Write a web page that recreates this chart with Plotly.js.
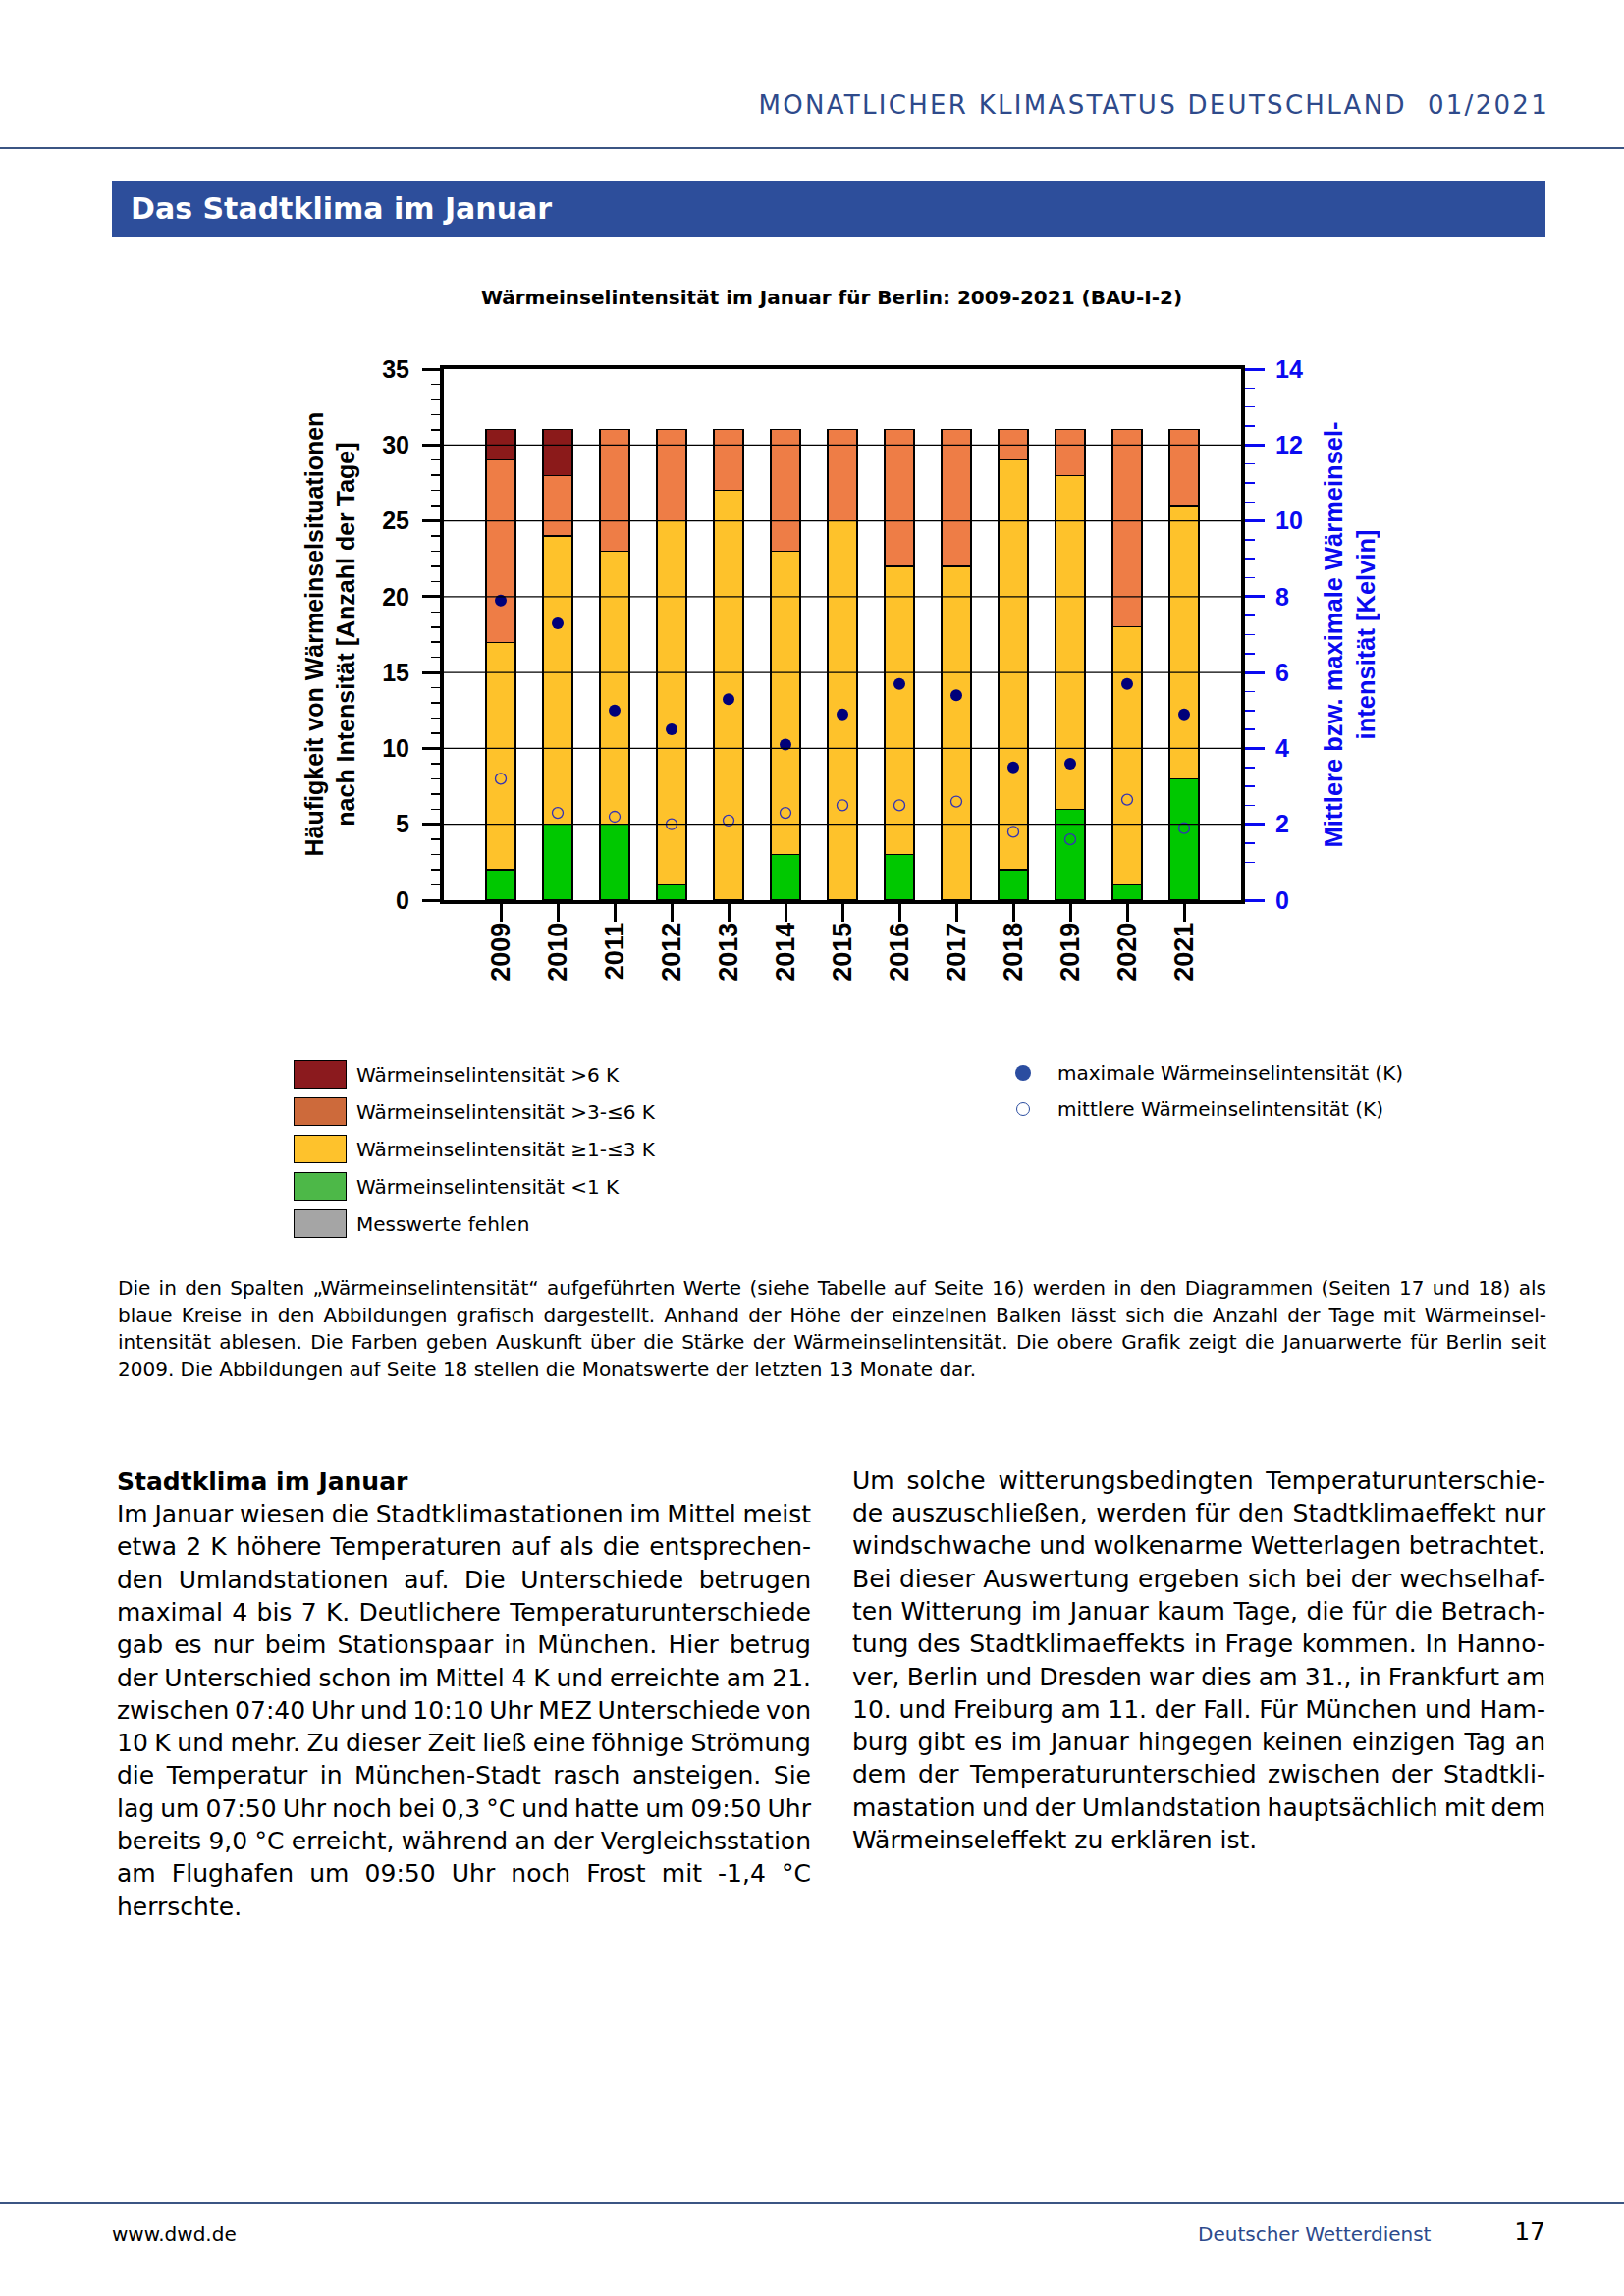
<!DOCTYPE html>
<html lang="de">
<head>
<meta charset="utf-8">
<title>Das Stadtklima im Januar</title>
<script src="https://cdn.plot.ly/plotly-3.0.1.min.js"></script>
<style>
html,body{margin:0;padding:0;background:#fff;}
#page{position:relative;width:1654px;height:2339px;overflow:hidden;font-family:"DejaVu Sans",sans-serif;color:#000;background:#fff;}
.rule{position:absolute;left:0;width:1654px;height:2px;background:#3b5583;}
#band{position:absolute;left:114px;top:184px;width:1460px;height:57px;background:#2d4e9b;}
#bandtext{position:absolute;left:19px;top:0;line-height:57px;font-weight:bold;font-size:30px;color:#fff;white-space:nowrap;}
.line{position:absolute;white-space:nowrap;}
#chart{position:absolute;left:0;top:260px;width:1654px;height:1020px;}
.lgbox{position:absolute;width:52px;height:27px;border:1.5px solid #000;}
.lgtext{position:absolute;white-space:nowrap;font-size:20px;line-height:30px;}
</style>
</head>
<body>
<div id="page">
  <div class="line" id="header" style="right:76px;top:90px;font-size:26px;line-height:34px;letter-spacing:2.3px;color:#2e4a8b;font-weight:normal;">MONATLICHER KLIMASTATUS DEUTSCHLAND&nbsp;&nbsp;01/2021</div>
  <div class="rule" style="top:150px;"></div>
  <div id="band"><div id="bandtext">Das Stadtklima im Januar</div></div>
  <div id="chart"></div>
  <div class="rule" style="top:2243px;"></div>
  <div class="line" style="left:114px;top:2260px;font-size:20px;line-height:32px;">www.dwd.de</div>
  <div class="line" style="left:1220px;top:2260px;font-size:20px;line-height:32px;color:#2c4a8c;">Deutscher Wetterdienst</div>
  <div class="line" style="right:80px;top:2256px;font-size:25px;line-height:36px;">17</div>
</div>
<script>
// ---------------- data ----------------
const years = ['2009','2010','2011','2012','2013','2014','2015','2016','2017','2018','2019','2020','2021'];
// days per intensity class (stacked, January = 31 days)
const daysBelow1K   = [2, 5, 5, 1, 0, 3, 0, 3, 0, 2, 6, 1, 8];
const days1to3K     = [15,19,18,24,27,20,25,19,22,27,22,17,18];
const days3to6K     = [12, 4, 8, 6, 4, 8, 6, 9, 9, 2, 3,13, 5];
const daysAbove6K   = [2, 3, 0, 0, 0, 0, 0, 0, 0, 0, 0, 0, 0];
const daysMissing   = [0, 0, 0, 0, 0, 0, 0, 0, 0, 0, 0, 0, 0];
// intensities in Kelvin (right axis)
const maxIntensity  = [7.9,7.3,5.0,4.5,5.3,4.1,4.9,5.7,5.4,3.5,3.6,5.7,4.9];
const meanIntensity = [3.2,2.3,2.2,2.0,2.1,2.3,2.5,2.5,2.6,1.8,1.6,2.65,1.9];
// tick labels
const leftTicks  = [0,5,10,15,20,25,30,35];
const rightTicks = [0,2,4,6,8,10,12,14];
const gridValues = [5,10,15,20,25,30];
// legend labels
const classNames = ['Wärmeinselintensität >6 K','Wärmeinselintensität >3-≤6 K','Wärmeinselintensität ≥1-≤3 K','Wärmeinselintensität <1 K','Messwerte fehlen'];
const markerNames = ['maximale Wärmeinselintensität (K)','mittlere Wärmeinselintensität (K)'];

// ---------------- styles ----------------
const barColors = ['#8b1a1a','#ee7d46','#fec22b','#00c800','#a6a6a6'];
const legendColors = ['#8b1a1e','#cd6a3b','#fec22c','#4db848','#a5a5a5'];
const chartFont = 'Liberation Sans, Arial, sans-serif';
const blue = '#0a0af0';

function nz(a){return a.map(v => v === 0 ? null : v);}

const seriesBottomUp = [
  {y: daysBelow1K, c: barColors[3], n: classNames[3]},
  {y: days1to3K,   c: barColors[2], n: classNames[2]},
  {y: days3to6K,   c: barColors[1], n: classNames[1]},
  {y: daysAbove6K, c: barColors[0], n: classNames[0]},
  {y: daysMissing, c: barColors[4], n: classNames[4]}
];
const traces = seriesBottomUp.map(s => ({
  type:'bar', x: years, y: nz(s.y), name: s.n, width: 0.52,
  marker:{color:s.c, line:{color:'#000', width:1.3}}, showlegend:false, hoverinfo:'skip'
}));
traces.push({type:'scatter', mode:'markers', x: years, y: maxIntensity, yaxis:'y2', name: markerNames[0],
  marker:{symbol:'circle', size:12, color:'#00007a'}, showlegend:false});
traces.push({type:'scatter', mode:'markers', x: years, y: meanIntensity, yaxis:'y2', name: markerNames[1],
  marker:{symbol:'circle-open', size:11, color:'#3232b4', line:{width:1.3}}, showlegend:false});

const shapes = gridValues.map(v => ({type:'line', xref:'paper', x0:0, x1:1, yref:'y', y0:v, y1:v,
  line:{color:'#000', width:1.3}, layer:'above'}));

const layout = {
  width:1654, height:1020,
  margin:{l:452, r:390, t:116, b:363},
  paper_bgcolor:'rgba(0,0,0,0)', plot_bgcolor:'#fff',
  barmode:'stack',
  font:{family:chartFont, color:'#000'},
  title:{text:'Wärmeinselintensität im Januar für Berlin: 2009-2021 (BAU-I-2)',
    font:{family:'DejaVu Sans, sans-serif', size:20, weight:'bold', color:'#000'},
    xref:'container', yref:'container', x:847/1654, y:1-43/1020, xanchor:'center', yanchor:'middle'},
  xaxis:{type:'category', range:[-1,13], showline:true, linewidth:4, linecolor:'#000', mirror:true,
    ticks:'outside', ticklen:18, tickwidth:3, tickcolor:'#000', tickangle:-90, ticklabelstandoff:-10,
    tickfont:{family:chartFont, size:27, weight:'bold', color:'#000'}, showgrid:false, zeroline:false,
    layer:'above traces', fixedrange:true},
  yaxis:{range:[0,35], tickvals:leftTicks, ticktext:leftTicks.map(String), showline:true, linewidth:4, linecolor:'#000',
    ticks:'outside', ticklen:18, tickwidth:3, tickcolor:'#000', ticklabelstandoff:8,
    minor:{ticks:'outside', ticklen:9, tickwidth:1.5, tickcolor:'#000', dtick:1, showgrid:false},
    tickfont:{family:chartFont, size:25, weight:'bold', color:'#000'}, showgrid:false, zeroline:false,
    layer:'above traces', fixedrange:true},
  yaxis2:{range:[0,14], overlaying:'y', side:'right', tickvals:rightTicks, ticktext:rightTicks.map(String),
    showline:true, linewidth:4, linecolor:'#000',
    ticks:'outside', ticklen:20, tickwidth:3, tickcolor:blue, ticklabelstandoff:6,
    minor:{ticks:'outside', ticklen:10, tickwidth:1.5, tickcolor:blue, dtick:0.5, showgrid:false},
    tickfont:{family:chartFont, size:25, weight:'bold', color:blue}, showgrid:false, zeroline:false,
    layer:'above traces', fixedrange:true},
  shapes: shapes,
  annotations:[
    {text:'Häufigkeit von Wärmeinselsituationen<br>nach Intensität [Anzahl der Tage]', xref:'paper', yref:'paper',
      x:(336-452)/812, y:0.5, xanchor:'center', yanchor:'middle', textangle:-90, showarrow:false,
      font:{family:chartFont, size:25, weight:'bold', color:'#000'}},
    {text:'Mittlere bzw. maximale Wärmeinsel-<br>intensität [Kelvin]', xref:'paper', yref:'paper',
      x:(1374-452)/812, y:0.5, xanchor:'center', yanchor:'middle', textangle:-90, showarrow:false,
      font:{family:chartFont, size:25.5, weight:'bold', color:blue}}
  ],
  showlegend:false
};
Plotly.newPlot('chart', traces, layout, {displayModeBar:false, staticPlot:true});

// ---------------- legend (HTML) ----------------
const page = document.getElementById('page');
const lgCenters = [1095,1133,1171,1209,1247];
classNames.forEach((n,i) => {
  const b = document.createElement('div'); b.className='lgbox';
  b.style.left='299px'; b.style.top=(lgCenters[i]-15)+'px'; b.style.background=legendColors[i];
  page.appendChild(b);
  const t = document.createElement('div'); t.className='lgtext';
  t.style.left='363px'; t.style.top=(lgCenters[i]-15)+'px'; t.textContent=n;
  page.appendChild(t);
});
const mkCenters = [1093,1130];
markerNames.forEach((n,i) => {
  const d = document.createElement('div');
  const sz = i===0 ? 16 : 12;
  d.style.position='absolute'; d.style.width=sz+'px'; d.style.height=sz+'px'; d.style.borderRadius='50%';
  d.style.left=(1042-sz/2-(i?1:0))+'px'; d.style.top=(mkCenters[i]-sz/2-(i?1:0))+'px';
  if(i===0){d.style.background='#2b4da0';} else {d.style.border='1.3px solid #2b4da0'; d.style.background='#fff';}
  page.appendChild(d);
  const t = document.createElement('div'); t.className='lgtext';
  t.style.left='1077px'; t.style.top=(mkCenters[i]-15)+'px'; t.textContent=n;
  page.appendChild(t);
});

// ---------------- page text ----------------
const captionLines = [
  'Die in den Spalten „Wärmeinselintensität“ aufgeführten Werte (siehe Tabelle auf Seite 16) werden in den Diagrammen (Seiten 17 und 18) als',
  'blaue Kreise in den Abbildungen grafisch dargestellt. Anhand der Höhe der einzelnen Balken lässt sich die Anzahl der Tage mit Wärmeinsel-',
  'intensität ablesen. Die Farben geben Auskunft über die Stärke der Wärmeinselintensität. Die obere Grafik zeigt die Januarwerte für Berlin seit',
  '2009. Die Abbildungen auf Seite 18 stellen die Monatswerte der letzten 13 Monate dar.'
];
const leftLines = [
  'Im Januar wiesen die Stadtklimastationen im Mittel meist',
  'etwa 2 K höhere Temperaturen auf als die entsprechen-',
  'den Umlandstationen auf. Die Unterschiede betrugen',
  'maximal 4 bis 7 K. Deutlichere Temperaturunterschiede',
  'gab es nur beim Stationspaar in München. Hier betrug',
  'der Unterschied schon im Mittel 4 K und erreichte am 21.',
  'zwischen 07:40 Uhr und 10:10 Uhr MEZ Unterschiede von',
  '10 K und mehr. Zu dieser Zeit ließ eine föhnige Strömung',
  'die Temperatur in München-Stadt rasch ansteigen. Sie',
  'lag um 07:50 Uhr noch bei 0,3 °C und hatte um 09:50 Uhr',
  'bereits 9,0 °C erreicht, während an der Vergleichsstation',
  'am Flughafen um 09:50 Uhr noch Frost mit -1,4 °C',
  'herrschte.'
];
const rightLines = [
  'Um solche witterungsbedingten Temperaturunterschie-',
  'de auszuschließen, werden für den Stadtklimaeffekt nur',
  'windschwache und wolkenarme Wetterlagen betrachtet.',
  'Bei dieser Auswertung ergeben sich bei der wechselhaf-',
  'ten Witterung im Januar kaum Tage, die für die Betrach-',
  'tung des Stadtklimaeffekts in Frage kommen. In Hanno-',
  'ver, Berlin und Dresden war dies am 31., in Frankfurt am',
  '10. und Freiburg am 11. der Fall. Für München und Ham-',
  'burg gibt es im Januar hingegen keinen einzigen Tag an',
  'dem der Temperaturunterschied zwischen der Stadtkli-',
  'mastation und der Umlandstation hauptsächlich mit dem',
  'Wärmeinseleffekt zu erklären ist.'
];
function placeLines(lines, o){
  lines.forEach((t,i) => {
    const d = document.createElement('div'); d.className='line';
    d.style.left=o.x+'px'; d.style.fontSize=o.size+'px'; d.style.lineHeight=o.step+'px';
    if(o.weight) d.style.fontWeight=o.weight;
    d.style.top=(o.base + i*o.step - (o.step/2 + 0.346*o.size))+'px';
    d.textContent=t; page.appendChild(d);
    if(o.justify && i < lines.length-1){
      let w = d.getBoundingClientRect().width;
      const n = (t.match(/ /g)||[]).length;
      let ws = n>0 ? (o.width-w)/n : 0;
      if(ws < -2.5){
        const chars = t.length;
        d.style.letterSpacing = ((o.width - w + 2.5*n)/chars)+'px';
        w = d.getBoundingClientRect().width;
        ws = (o.width-w)/n;
      }
      if(n>0) d.style.wordSpacing=ws+'px';
    }
  });
}
placeLines(captionLines, {x:120, width:1455, base:1320, step:27.4, size:20, justify:true});
placeLines(['Stadtklima im Januar'], {x:119, width:707, base:1518, step:33.3, size:25, weight:'bold'});
placeLines(leftLines, {x:119, width:707, base:1518+33.3, step:33.3, size:25, justify:true});
placeLines(rightLines, {x:868, width:706, base:1517, step:33.3, size:25, justify:true});
</script>
</body>
</html>
